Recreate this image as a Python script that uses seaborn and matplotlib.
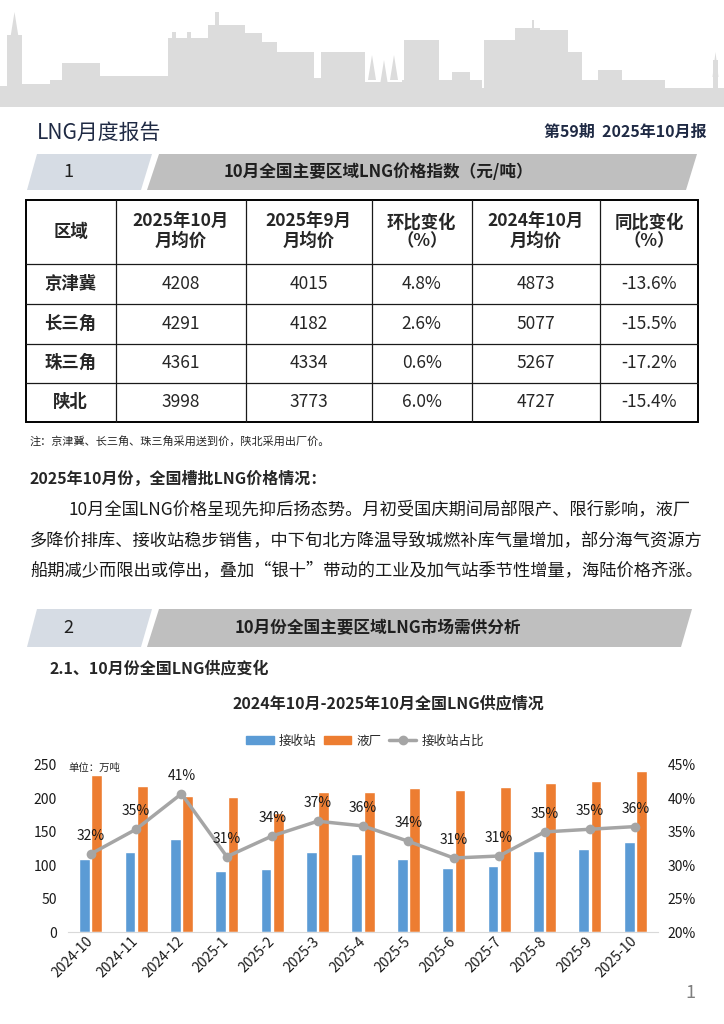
import numpy as np
import pandas as pd
import matplotlib
matplotlib.use("Agg")
import matplotlib.pyplot as plt
from matplotlib.patches import Polygon, Rectangle, Patch
from matplotlib.lines import Line2D
import seaborn as sns

# ---- data ----
months = ["2024-10", "2024-11", "2024-12", "2025-1", "2025-2", "2025-3", "2025-4",
          "2025-5", "2025-6", "2025-7", "2025-8", "2025-9", "2025-10"]
terminal = [110, 120, 140, 92, 94, 120, 117, 110, 96, 99, 121, 124, 135]
plant = [235, 218, 203, 202, 179, 210, 209, 216, 212, 217, 223, 226, 241]
terminal_share = [31.7, 35.4, 40.7, 31.3, 34.4, 36.6, 35.9, 33.6, 31.1, 31.4, 35.0, 35.4, 35.8]

regions = ["京津冀", "长三角", "珠三角", "陕北"]
price_oct25 = [4208, 4291, 4361, 3998]
price_sep25 = [4015, 4182, 4334, 3773]
mom_change = [4.8, 2.6, 0.6, 6.0]
price_oct24 = [4873, 5077, 5267, 4727]
yoy_change = [-13.6, -15.5, -17.2, -15.4]
table_header = [["区域"], ["2025年10月", "月均价"], ["2025年9月", "月均价"],
                ["环比变化", "（%）"], ["2024年10月", "月均价"], ["同比变化", "（%）"]]

paragraph = ["10月全国LNG价格呈现先抑后扬态势。月初受国庆期间局部限产、限行影响，液厂",
             "多降价排库、接收站稳步销售，中下旬北方降温导致城燃补库气量增加，部分海气资源方",
             "船期减少而限出或停出，叠加“银十”带动的工业及加气站季节性增量，海陆价格齐涨。"]

BLUE = "#5b9bd5"
ORANGE = "#ed7d31"
GRAY = "#a5a5a5"

sns.set_style("white")
plt.rcParams["font.family"] = ["Noto Sans CJK SC", "DejaVu Sans"]

W, H = 724, 1024
fig = plt.figure(figsize=(W / 100, H / 100), dpi=100)
bg = fig.add_axes([0, 0, 1, 1])
bg.set_xlim(0, W)
bg.set_ylim(H, 0)
bg.axis("off")

# ---- skyline header ----
sky = "#dcdcdc"
bg.add_patch(Rectangle((0, 88), W, 19, color=sky, lw=0))
blocks = [(0, 7, 86), (7, 22, 35), (22, 50, 84), (50, 62, 80), (62, 100, 63), (100, 168, 76),
          (168, 208, 38), (172, 176, 32), (187, 191, 32), (208, 245, 25), (215, 219, 12),
          (245, 262, 33), (262, 277, 42), (277, 314, 52), (314, 321, 78), (321, 365, 52),
          (365, 402, 82), (402, 404, 80), (404, 439, 40), (439, 482, 80), (452, 470, 72),
          (484, 519, 40), (519, 568, 30), (532, 534, 20), (515, 540, 28), (563, 582, 52),
          (582, 665, 80), (598, 622, 70), (665, 711, 89), (713, 718, 60), (718, 724, 88)]
for x0, x1, top in blocks:
    bg.add_patch(Rectangle((x0, top), x1 - x0, 90 - top, color=sky, lw=0))
for cx, top, half in [(14.5, 12, 4), (372, 55, 4), (384, 60, 4), (394, 55, 4), (715.5, 52, 3)]:
    bg.add_patch(Polygon([(cx - half, top + 25), (cx, top), (cx + half, top + 25)], color=sky, lw=0))

bg.text(37, 133, "LNG月度报告", fontsize=15, fontweight="medium", color="#1f2a44",
        va="center", ha="left")
bg.text(707, 132, "第59期  2025年10月报", fontsize=11.5, fontweight="bold", color="#1f2a44",
        va="center", ha="right")


def section_bar(y0, y1, num, title, right=697):
    bg.add_patch(Polygon([(37, y0), (152, y0), (141, y1), (27, y1)], color="#d6dce4", lw=0))
    bg.add_patch(Polygon([(159, y0), (right, y0), (right - 11, y1), (147, y1)], color="#bfbfbf", lw=0))
    ym = (y0 + y1) / 2
    bg.text(68, ym, num, fontsize=13, color="#1f1f1f", ha="center", va="center")
    bg.text(378, ym, title, fontsize=12, fontweight="bold", color="#1f1f1f", ha="center", va="center")


section_bar(154, 190, "1", "10月全国主要区域LNG价格指数（元/吨）")

# ---- table ----
cols = [25.5, 115.5, 246, 371.5, 472, 600, 698]
rows = [199.5, 264, 304, 343.5, 382.5, 421.5]
for x in cols[1:-1]:
    bg.plot([x, x], [rows[0], rows[-1]], color="#1a1a1a", lw=0.9)
for y in rows[1:-1]:
    bg.plot([cols[0], cols[-1]], [y, y], color="#1a1a1a", lw=0.9)
bg.add_patch(Rectangle((cols[0], rows[0]), cols[-1] - cols[0], rows[-1] - rows[0],
                       fill=False, ec="#000000", lw=1.4))

centers = [(cols[i] + cols[i + 1]) / 2 for i in range(len(cols) - 1)]
hy = (rows[0] + rows[1]) / 2
for cx, lines in zip(centers, table_header):
    if len(lines) == 1:
        bg.text(cx, hy, lines[0], fontsize=12.5, fontweight="bold", ha="center", va="center")
    else:
        bg.text(cx, hy - 9.5, lines[0], fontsize=12.5, fontweight="bold", ha="center", va="center")
        bg.text(cx, hy + 9.5, lines[1], fontsize=12.5, fontweight="bold", ha="center", va="center")

for r, reg in enumerate(regions):
    ry = (rows[r + 1] + rows[r + 2]) / 2
    cells = [reg, f"{price_oct25[r]}", f"{price_sep25[r]}", f"{mom_change[r]:.1f}%",
             f"{price_oct24[r]}", f"{yoy_change[r]:.1f}%"]
    for c, val in enumerate(cells):
        bg.text(centers[c], ry, val, fontsize=12.5, ha="center", va="center",
                fontweight="bold" if c == 0 else "normal")

bg.text(30, 441, "注：京津冀、长三角、珠三角采用送到价，陕北采用出厂价。", fontsize=8, va="center")
bg.text(30, 479, "2025年10月份，全国槽批LNG价格情况：", fontsize=11.5, fontweight="bold", va="center")
for i, (line, y) in enumerate(zip(paragraph, [510, 540.5, 571.5])):
    bg.text(69 if i == 0 else 30, y, line, fontsize=12.4, va="center", color="#1a1a1a")

section_bar(609, 647, "2", "10月份全国主要区域LNG市场需供分析", right=692)
bg.text(50, 668, "2.1、10月份全国LNG供应变化", fontsize=11.5, fontweight="bold", va="center")
bg.text(388, 703, "2024年10月-2025年10月全国LNG供应情况", fontsize=11.5, fontweight="bold",
        ha="center", va="center")
bg.text(690, 993, "1", fontsize=13, color="#7f7f7f", ha="center", va="center")

# ---- chart ----
x0, x1, yb, yt = 68, 658, 932.3, 765
ax = fig.add_axes([x0 / W, 1 - yb / H, (x1 - x0) / W, (yb - yt) / H])
df = pd.DataFrame({
    "月份": months * 2,
    "类型": ["接收站"] * len(months) + ["液厂"] * len(months),
    "供应量": terminal + plant,
})
sns.barplot(data=df, x="月份", y="供应量", hue="类型", hue_order=["接收站", "液厂"],
            order=months, palette=[BLUE, ORANGE], saturation=1, width=0.54, gap=0.12,
            legend=False, ax=ax)
ax.set_ylim(0, 250)
ax.set_yticks(range(0, 251, 50))
ax.set_xlim(-0.5, len(months) - 0.5)
ax.set_xlabel("")
ax.set_ylabel("")
for s in ["top", "left", "right"]:
    ax.spines[s].set_visible(False)
ax.spines["bottom"].set_color("#d9d9d9")
ax.tick_params(axis="y", length=0, pad=8, labelsize=10, labelcolor="#1a1a1a")
ax.tick_params(axis="x", length=0, pad=5, labelsize=10, labelcolor="#1a1a1a")
ax.set_xticks(range(len(months)))
ax.set_xticklabels(months, rotation=45, ha="right", va="center", rotation_mode="anchor")

ax2 = ax.twinx()
sns.lineplot(x=np.arange(len(months)), y=terminal_share, ax=ax2, color=GRAY, lw=2.5,
             marker="o", markersize=7, markeredgewidth=0)
ax2.set_ylim(20, 45)
ax2.set_yticks(range(20, 46, 5))
ax2.set_yticklabels([f"{t}%" for t in range(20, 46, 5)])
ax2.tick_params(axis="y", length=0, pad=7, labelsize=10, labelcolor="#1a1a1a")
for s in ax2.spines.values():
    s.set_visible(False)
for i, v in enumerate(terminal_share):
    ax2.annotate(f"{v:.0f}%", (i, v), xytext=(0, 13), textcoords="offset points",
                 ha="center", va="center", fontsize=10, color="#1a1a1a")

fig.text(68 / W, 1 - 768 / H, "单位：万吨", fontsize=7.5, va="center", ha="left", zorder=10)

handles = [Patch(color=BLUE, label="接收站"), Patch(color=ORANGE, label="液厂"),
           Line2D([], [], color=GRAY, lw=2.5, marker="o", markersize=6, label="接收站占比")]
fig.legend(handles=handles, loc="center", bbox_to_anchor=(365 / W, 1 - 741 / H), ncol=3,
           frameon=False, fontsize=9, handlelength=2.2, handleheight=0.6,
           columnspacing=0.6, handletextpad=0.4)

fig.savefig("out.png", dpi=100)
